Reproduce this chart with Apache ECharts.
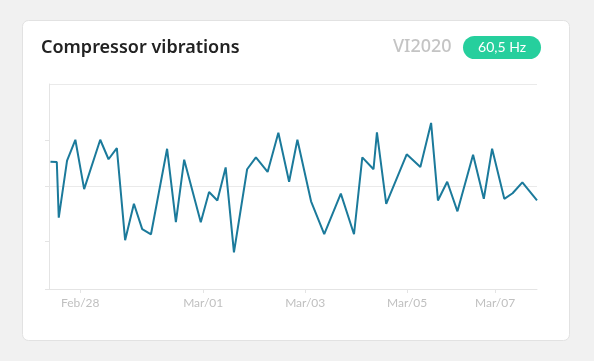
<!DOCTYPE html>
<html>
<head>
<meta charset="utf-8">
<script src="https://cdn.jsdelivr.net/npm/echarts@6/dist/echarts.min.js"></script>
<style>
html,body{margin:0;padding:0;background:#f1f1f1;}
#chart{width:594px;height:361px;}
</style>
</head>
<body>
<div id="chart"></div>
<script>
// Sample positions along the observation window (0-100) and vibration levels
var sampleX = [0.3,1.6,2.0,3.7,5.4,7.2,10.5,12.2,13.9,15.6,17.4,19.1,20.9,24.2,26.0,27.7,31.1,32.8,34.5,36.2,37.9,40.6,42.4,44.8,47.0,49.2,50.9,53.7,56.4,59.8,62.5,64.2,66.5,67.2,69.1,73.3,76.1,78.3,79.7,81.6,83.7,86.9,89.1,90.8,93.3,95.0,97.0,100];
var vibration = [62.1,61.9,34.8,62.6,72.8,48.7,72.8,63.3,68.7,23.8,41.6,29.2,26.7,68.4,32.6,63.1,32.6,47.3,43.2,59.3,17.9,58.4,64.2,57.1,76.2,52.3,72.8,42.8,26.8,46.5,26.7,64.2,58.4,76.4,41.5,65.7,59.5,81.0,43.2,52.3,37.9,65.5,44.0,68.4,44.0,46.7,52.0,43.2];
var tickPos = [6.4,31.6,52.5,73.4,91.4];
var tickLabels = ['Feb/28','Mar/01','Mar/03','Mar/05','Mar/07'];
var yTickPos = [0,23.5,50,72.5];
var titleText = 'Compressor vibrations';
var deviceText = 'VI2020';
var badgeText = '60,5 Hz';

var chart = echarts.init(document.getElementById('chart'), null, {renderer:'canvas'});
var option = {
  backgroundColor: '#f1f1f1',
  animation: false,
  graphic: [
    {type:'rect', z:-10, shape:{x:22.5,y:20.5,width:547,height:320,r:6}, style:{fill:'#ffffff',stroke:'#e2e2e2',lineWidth:1}},
    {type:'text', left:41, top:39, style:{text:titleText, font:'600 18px "Noto Sans"', fill:'#222222'}},
    {type:'text', left:393, top:38, style:{text:deviceText, font:'500 18px "Noto Sans"', fill:'#c4c4c4'}},
    {type:'rect', shape:{x:463,y:36,width:78,height:23,r:11.5}, style:{fill:'#26cf9d'}},
    {type:'text', x:502, y:47.5, style:{text:badgeText, font:'14px Lato', fill:'#ffffff', align:'center', verticalAlign:'middle'}}
  ],
  grid: {left:49, right:57, top:84, bottom:72, containLabel:false},
  xAxis: {
    type:'value', min:0, max:100,
    axisLine:{show:true, lineStyle:{color:'#e4e4e4', width:1}},
    axisTick:{show:true, customValues:tickPos, length:4, lineStyle:{color:'#e4e4e4'}},
    axisLabel:{show:true, customValues:tickPos, margin:8, color:'#c0c0c0', fontSize:12, fontFamily:'Lato',
      formatter:function(v){var i=tickPos.indexOf(v); if(i<0){var best=0;for(var k=0;k<tickPos.length;k++){if(Math.abs(tickPos[k]-v)<Math.abs(tickPos[best]-v))best=k;}i=best;} return tickLabels[i];}},
    splitLine:{show:false}
  },
  yAxis: [{
    type:'value', min:0, max:100,
    axisLine:{show:true, lineStyle:{color:'#e4e4e4', width:1}},
    axisTick:{show:true, customValues:yTickPos, length:4, lineStyle:{color:'#e4e4e4'}},
    axisLabel:{show:false},
    splitLine:{show:false}
  },{
    type:'value', min:0, max:100, interval:50, position:'left',
    axisLine:{show:false}, axisTick:{show:false}, axisLabel:{show:false},
    splitLine:{show:true, lineStyle:{color:'#eaeaea', width:1}}
  }],
  series: [{
    type:'line',
    yAxisIndex:0,
    data: sampleX.map(function(x,i){return [x, vibration[i]];}),
    showSymbol:false,
    lineStyle:{color:'#1b7a9b', width:2},
    itemStyle:{color:'#1b7a9b'}
  }]
};
chart.setOption(option);
</script>
</body>
</html>
